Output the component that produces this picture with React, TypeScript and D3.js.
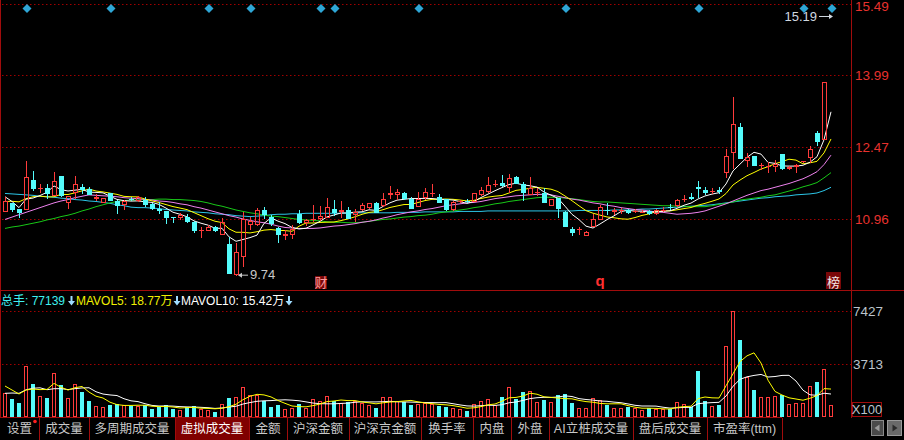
import React, { useEffect } from "react";
import * as d3 from "d3";

// daily bars, oldest first (the last bar is still being formed: only its
// close, high and volume show up, through the MAs, the 15.19 mark and the volume bar)
const opens = [
  11.09, 11.29, 11.16, 11.14, 11.77, 11.58, 11.6, 11.44, 11.86, 11.28,
  11.49, 11.62, 11.58, 11.37, 11.28, 11.49, 11.34, 11.25, 11.38, 11.33,
  11.35, 11.26, 11.17, 11.11, 11.0, 10.97, 11.0, 10.89, 10.69, 10.7,
  10.77, 10.61, 10.42, 9.76, 10.15, 10.82, 10.82, 11.15, 11.0, 10.76,
  10.6, 10.61, 11.05, 10.87, 10.93, 10.94, 10.98, 11.16, 11.1, 11.14,
  11.03, 11.14, 11.18, 11.29, 11.22, 11.45, 11.45, 11.5, 11.37, 11.21,
  11.4, 11.48, 11.41, 11.37, 11.14, 11.32, 11.34, 11.31, 11.45, 11.53,
  11.68, 11.72, 11.61, 11.83, 11.69, 11.46, 11.49, 11.49, 11.23, 11.39,
  11.1, 10.74, 10.71, 10.6, 10.79, 10.92, 11.13, 11.1, 11.12, 11.15,
  11.1, 11.09, 11.12, 11.05, 11.12, 11.2, 11.23, 11.36, 11.42, 11.62,
  11.56, 11.53, 11.57, 11.92, 12.34, 12.89, 12.18, 12.28, 12.07, 12.05,
  12.04, 12.32, 12.01, 12.05, 12.15, 12.23, 12.76, 12.63, 13.84,
];
const highs = [
  11.42, 11.29, 11.16, 12.18, 11.96, 11.7, 11.69, 11.94, 11.86, 11.44,
  11.86, 11.69, 11.62, 11.47, 11.39, 11.5, 11.36, 11.35, 11.42, 11.43,
  11.41, 11.28, 11.31, 11.12, 11.0, 11.08, 11.05, 10.9, 10.77, 10.82,
  10.8, 10.98, 10.57, 10.45, 11.1, 10.99, 11.18, 11.2, 11.04, 10.77,
  10.72, 10.82, 11.15, 10.94, 11.24, 11.22, 11.39, 11.35, 11.33, 11.21,
  11.17, 11.28, 11.29, 11.3, 11.5, 11.65, 11.58, 11.52, 11.42, 11.53,
  11.6, 11.69, 11.48, 11.37, 11.33, 11.36, 11.37, 11.5, 11.63, 11.84,
  11.77, 11.88, 11.91, 11.85, 11.74, 11.83, 11.6, 11.6, 11.38, 11.4,
  11.12, 10.77, 10.77, 10.7, 11.05, 11.25, 11.29, 11.19, 11.19, 11.17,
  11.17, 11.13, 11.13, 11.16, 11.2, 11.26, 11.37, 11.45, 11.49, 11.75,
  11.63, 11.6, 11.62, 12.42, 13.54, 12.99, 12.35, 12.28, 12.14, 12.16,
  12.2, 12.32, 12.06, 12.11, 12.18, 12.49, 12.81, 13.84, 15.19,
];
const lows = [
  11.09, 11.1, 10.98, 11.14, 11.55, 11.49, 11.37, 11.44, 11.42, 11.16,
  11.37, 11.48, 11.45, 11.32, 11.28, 11.32, 11.05, 11.15, 11.32, 11.31,
  11.21, 11.14, 11.06, 10.84, 10.86, 10.92, 10.86, 10.65, 10.55, 10.7,
  10.68, 10.61, 9.79, 9.74, 9.94, 10.72, 10.8, 10.95, 10.8, 10.45,
  10.5, 10.52, 10.85, 10.8, 10.89, 10.9, 10.98, 11.01, 10.98, 10.95,
  10.88, 11.12, 11.16, 11.07, 11.2, 11.37, 11.35, 11.35, 11.16, 11.2,
  11.35, 11.41, 11.28, 11.12, 11.12, 11.28, 11.28, 11.3, 11.43, 11.49,
  11.62, 11.63, 11.5, 11.69, 11.34, 11.45, 11.43, 11.29, 11.22, 10.97,
  10.77, 10.6, 10.62, 10.58, 10.79, 10.92, 11.03, 11.04, 11.06, 11.06,
  11.08, 11.07, 11.04, 11.03, 11.1, 11.14, 11.2, 11.3, 11.36, 11.39,
  11.45, 11.47, 11.47, 11.81, 12.0, 12.22, 12.04, 12.06, 11.98, 11.93,
  11.95, 11.99, 11.99, 11.93, 12.13, 12.14, 12.49, 12.63, 13.84,
];
const closes = [
  11.33, 11.14, 11.08, 11.83, 11.58, 11.6, 11.48, 11.75, 11.44, 11.44,
  11.69, 11.56, 11.46, 11.41, 11.39, 11.34, 11.22, 11.33, 11.36, 11.41,
  11.24, 11.16, 11.12, 10.97, 10.97, 11.03, 10.89, 10.69, 10.72, 10.77,
  10.7, 10.88, 9.79, 10.25, 10.96, 10.9, 11.14, 11.03, 10.84, 10.61,
  10.64, 10.73, 10.87, 10.92, 10.96, 11.02, 11.2, 11.07, 11.14, 10.96,
  11.1, 11.24, 11.28, 11.08, 11.37, 11.49, 11.52, 11.37, 11.16, 11.37,
  11.51, 11.5, 11.29, 11.14, 11.31, 11.34, 11.32, 11.49, 11.56, 11.67,
  11.7, 11.65, 11.81, 11.7, 11.5, 11.6, 11.51, 11.29, 11.37, 11.16,
  10.77, 10.65, 10.73, 10.68, 10.96, 11.2, 11.11, 11.13, 11.14, 11.08,
  11.12, 11.1, 11.05, 11.14, 11.15, 11.18, 11.35, 11.38, 11.37, 11.58,
  11.5, 11.55, 11.53, 12.29, 12.96, 12.22, 12.27, 12.06, 12.1, 12.08,
  12.12, 12.0, 12.04, 12.1, 12.17, 12.44, 12.58, 13.84, 15.05,
];
// volume, in units of 100 lots (axis shows X100)
const volumes = [
  1687, 1290, 1010, 3590, 2335, 1500, 1360, 3100, 2245, 1360,
  2335, 1777, 1150, 800, 732, 870, 940, 870, 800, 800,
  870, 592, 732, 870, 592, 523, 732, 800, 592, 523,
  383, 918, 1359, 1429, 2126, 1568, 1600, 1150, 732, 870,
  592, 662, 940, 662, 1290, 1150, 1500, 1150, 1010, 1080,
  1150, 1010, 870, 662, 1429, 1429, 1150, 1080, 870, 940,
  1010, 940, 801, 732, 662, 592, 453, 940, 1150, 1290,
  870, 1429, 2126, 1290, 1777, 1847, 1080, 1220, 1080, 1568,
  1638, 1010, 662, 662, 1359, 1220, 870, 662, 662, 732,
  662, 523, 662, 592, 592, 592, 1080, 940, 732, 3241,
  1150, 801, 870, 4984, 7423, 5402, 2823, 1917, 1429, 1429,
  1500, 1568, 940, 1010, 1010, 2196, 2474, 3380, 860,
];
// sessions before the window (feed the first MA5/MA10 values)
const priorCloses = [11.1, 11.2, 11.15, 11.18, 11.47, 11.64, 11.73, 10.93, 11.47];
const priorVolumes = [1100, 1200, 1150, 1250, 1190, 2685, 2405, 2195, 2008];

// longer averages
const ma20 = [
  10.94, 10.99, 11.04, 11.09, 11.14, 11.19, 11.24, 11.29, 11.33, 11.36,
  11.4, 11.43, 11.46, 11.45, 11.44, 11.43, 11.42, 11.4, 11.39, 11.38,
  11.36, 11.35, 11.33, 11.32, 11.3, 11.27, 11.25, 11.21, 11.18, 11.14,
  11.1, 11.06, 11.02, 10.99, 10.95, 10.92, 10.89, 10.87, 10.84, 10.8,
  10.77, 10.76, 10.75, 10.75, 10.75, 10.76, 10.78, 10.8, 10.81, 10.83,
  10.85, 10.88, 10.9, 10.93, 10.97, 11.0, 11.04, 11.07, 11.1, 11.12,
  11.15, 11.17, 11.2, 11.23, 11.25, 11.27, 11.29, 11.3, 11.32, 11.35,
  11.38, 11.4, 11.42, 11.44, 11.45, 11.46, 11.47, 11.47, 11.46, 11.43,
  11.4, 11.37, 11.35, 11.32, 11.29, 11.27, 11.24, 11.22, 11.19, 11.17,
  11.15, 11.14, 11.12, 11.1, 11.09, 11.07, 11.05, 11.06, 11.07, 11.09,
  11.12, 11.17, 11.22, 11.27, 11.33, 11.39, 11.45, 11.5, 11.55, 11.58,
  11.62, 11.66, 11.7, 11.75, 11.8, 11.87, 11.95, 12.1, 12.3,
];
const ma30 = [
  10.75, 10.78, 10.8, 10.83, 10.86, 10.89, 10.93, 10.96, 11.0, 11.03,
  11.07, 11.12, 11.16, 11.21, 11.25, 11.29, 11.32, 11.34, 11.35, 11.35,
  11.36, 11.36, 11.37, 11.37, 11.36, 11.36, 11.35, 11.34, 11.32, 11.29,
  11.25, 11.22, 11.18, 11.14, 11.11, 11.08, 11.06, 11.03, 11.01, 11.0,
  10.98, 10.96, 10.94, 10.93, 10.92, 10.91, 10.89, 10.88, 10.88, 10.87,
  10.87, 10.88, 10.9, 10.92, 10.94, 10.95, 10.97, 10.99, 11.0, 11.02,
  11.03, 11.05, 11.08, 11.1, 11.12, 11.14, 11.16, 11.19, 11.21, 11.24,
  11.27, 11.29, 11.32, 11.34, 11.36, 11.38, 11.4, 11.41, 11.41, 11.41,
  11.39, 11.38, 11.36, 11.34, 11.32, 11.31, 11.31, 11.3, 11.29, 11.28,
  11.27, 11.26, 11.25, 11.24, 11.23, 11.23, 11.22, 11.22, 11.21, 11.21,
  11.21, 11.23, 11.26, 11.28, 11.31, 11.35, 11.37, 11.39, 11.41, 11.44,
  11.46, 11.5, 11.54, 11.58, 11.63, 11.67, 11.72, 11.82, 11.93,
];
const ma60 = [
  11.49, 11.48, 11.47, 11.46, 11.45, 11.43, 11.42, 11.41, 11.39, 11.38,
  11.36, 11.35, 11.33, 11.32, 11.3, 11.28, 11.25, 11.23, 11.2, 11.19,
  11.19, 11.18, 11.17, 11.15, 11.14, 11.13, 11.12, 11.1, 11.09, 11.08,
  11.06, 11.05, 11.04, 11.02, 11.01, 11.0, 11.01, 11.02, 11.04, 11.05,
  11.05, 11.06, 11.06, 11.07, 11.07, 11.07, 11.07, 11.07, 11.07, 11.07,
  11.08, 11.08, 11.08, 11.08, 11.08, 11.08, 11.09, 11.09, 11.09, 11.09,
  11.1, 11.1, 11.1, 11.1, 11.1, 11.11, 11.11, 11.11, 11.11, 11.12,
  11.12, 11.12, 11.12, 11.12, 11.12, 11.12, 11.12, 11.12, 11.12, 11.12,
  11.12, 11.12, 11.13, 11.13, 11.13, 11.13, 11.13, 11.14, 11.14, 11.14,
  11.15, 11.16, 11.16, 11.17, 11.18, 11.19, 11.2, 11.21, 11.22, 11.23,
  11.24, 11.25, 11.27, 11.29, 11.31, 11.33, 11.35, 11.37, 11.39, 11.4,
  11.42, 11.43, 11.44, 11.46, 11.47, 11.48, 11.5, 11.55, 11.62,
];

const priceTicks = [15.49, 13.99, 12.47, 10.96];
const volumeTicks = [7427, 3713];
const signalIdx = [3, 15, 29, 35, 45, 47, 59, 80, 99, 114, 118];
const eventIdx = [45, 85, 118];
const eventLabels = ["财", "q", "榜"];
const tabLabels = [
  "设置", "成交量", "多周期成交量", "虚拟成交量", "金额", "沪深金额", "沪深京金额",
  "换手率", "内盘", "外盘", "AI立桩成交量", "盘后成交量", "市盈率(ttm)",
];
const selectedTab = 3;

const W = 904;
const H = 440;
const AXIS_X = 851;
const PRICE_BOTTOM = 290;
const VOL_BASE = 417;
const TAB_TOP = 417.5;
const TAB_W = [39, 50, 86, 74, 38, 62, 72, 52, 38, 38, 84, 74, 75];
const FONT = "'Liberation Sans', Arial, 'Noto Sans CJK SC', sans-serif";

const RED = "#ff3b3b";
const CYAN = "#54fcfc";
const FRAME = "#a00c0c";
const GRID = "#a00000";

function movingAvg(vals: number[], prior: number[], n: number) {
  const all = prior.concat(vals);
  return vals.map((_, i) => d3.mean(all.slice(i + prior.length - n + 1, i + prior.length + 1)) as number);
}

const App: React.FC = () => {
  useEffect(() => {
    document.body.style.margin = "0";
    document.body.style.background = "#000";
  }, []);

  const n = closes.length;
  const painted = n - 1; // last bar's candle is not painted yet

  const x = d3.scaleLinear().domain([0, n - 1]).range([5, 831]);
  const yP = d3.scaleLinear().domain([10.96, 15.49]).range([218.5, 4.3]);
  const yV = d3.scaleLinear().domain([0, 7427]).range([VOL_BASE + 0.5, 311]);

  const ma5 = movingAvg(closes, priorCloses, 5);
  const ma10 = movingAvg(closes, priorCloses, 10);
  const vma5 = movingAvg(volumes, priorVolumes, 5);
  const vma10 = movingAvg(volumes, priorVolumes, 10);

  const priceLine = d3.line<number>().x((_, i) => x(i)).y((d) => yP(d));
  const volLine = d3.line<number>().x((_, i) => x(i)).y((d) => yV(d));

  const maSeries = [
    { data: ma60, color: "#2cc6e8" },
    { data: ma30, color: "#18c818" },
    { data: ma20, color: "#ee82ee" },
    { data: ma10, color: "#ffff00" },
    { data: ma5, color: "#ffffff" },
  ];

  const lowIdx = d3.minIndex(lows);
  const highIdx = d3.maxIndex(highs);

  const tabEdges = d3.cumsum(TAB_W);

  return (
    <svg
      width={W}
      height={H}
      style={{ display: "block", position: "absolute", left: 0, top: 0, fontFamily: FONT }}
    >
      <rect width={W} height={H} fill="#000" />

      {/* price grid */}
      {priceTicks.map((t) => (
        <g key={"pt" + t}>
          <line x1={2} x2={AXIS_X} y1={Math.round(yP(t)) + 0.5} y2={Math.round(yP(t)) + 0.5}
            stroke={GRID} strokeDasharray="1.5,2.5" />
          <text x={855} y={Math.max(yP(t) + 5, 11)} fontSize={13.5} fill="#e8322e">{t.toFixed(2)}</text>
        </g>
      ))}

      {/* moving averages */}
      {maSeries.map((s, k) => (
        <path key={"ma" + k} d={priceLine(s.data) ?? ""} fill="none" stroke={s.color} strokeWidth={1} />
      ))}

      {/* candles */}
      <g shapeRendering="crispEdges">
        {opens.slice(0, painted).map((o, i) => {
          const c = closes[i];
          const cx = Math.round(x(i));
          const up = c >= o;
          const top = Math.round(yP(Math.max(o, c)));
          const bot = Math.round(yP(Math.min(o, c)));
          const hi = Math.round(yP(highs[i]));
          const lo = Math.round(yP(lows[i]));
          if (up) {
            return (
              <g key={"c" + i} stroke={RED} fill="none">
                {hi < top && <line x1={cx + 0.5} x2={cx + 0.5} y1={hi} y2={top} />}
                {lo > bot && <line x1={cx + 0.5} x2={cx + 0.5} y1={bot} y2={lo} />}
                {bot - top >= 2 ? (
                  <rect x={cx - 1.5} y={top + 0.5} width={4} height={bot - top - 1} />
                ) : (
                  <line x1={cx - 2} x2={cx + 3} y1={top + 0.5} y2={top + 0.5} />
                )}
              </g>
            );
          }
          return (
            <g key={"c" + i}>
              <line x1={cx + 0.5} x2={cx + 0.5} y1={hi} y2={lo} stroke={CYAN} />
              <rect x={cx - 2} y={top} width={5} height={Math.max(bot - top, 1)} fill={CYAN} />
            </g>
          );
        })}
      </g>

      {/* signal diamonds along the top */}
      {signalIdx.map((i) => {
        const cx = x(i) + 1;
        const cy = 8.5;
        return (
          <path key={"s" + i} d={`M${cx},${cy - 4.5}L${cx + 4.5},${cy}L${cx},${cy + 4.5}L${cx - 4.5},${cy}Z`}
            fill="#2ea6d6" />
        );
      })}

      {/* low / high marks */}
      <g stroke="#c8c8c8" fill="#c8c8c8">
        <line x1={x(lowIdx) + 3} x2={x(lowIdx) + 12} y1={yP(lows[lowIdx]) - 1} y2={yP(lows[lowIdx]) - 1} />
        <path d={`M${x(lowIdx) + 2},${yP(lows[lowIdx]) - 1}l4,-2.5v5z`} stroke="none" />
      </g>
      <text x={x(lowIdx) + 14} y={yP(lows[lowIdx]) + 3} fontSize={13} fill="#c8c8c8">
        {lows[lowIdx].toFixed(2)}
      </text>
      <g stroke="#d0d8e0" fill="#d0d8e0">
        <line x1={x(highIdx) - 12} x2={x(highIdx)} y1={yP(highs[highIdx]) - 2} y2={yP(highs[highIdx]) - 2} />
        <path d={`M${x(highIdx) + 2},${yP(highs[highIdx]) - 2}l-4,-2.5v5z`} stroke="none" />
      </g>
      <text x={x(highIdx) - 14} y={yP(highs[highIdx]) + 2.5} fontSize={13} fill="#d0d8e0" textAnchor="end">
        {highs[highIdx].toFixed(2)}
      </text>

      {/* event tags at the bottom of the price panel */}
      {eventIdx.map((i, k) => {
        const cx = x(i);
        const label = eventLabels[k];
        if (label === "q") {
          return (
            <text key={"e" + k} x={cx} y={286} fontSize={15} fontWeight="bold" fill="#ff3030" textAnchor="middle">
              {label}
            </text>
          );
        }
        const w = label === "榜" ? 15 : 12;
        const top = label === "榜" ? 272 : 276;
        return (
          <g key={"e" + k}>
            <rect x={cx - 5} y={top} width={w} height={289 - top} fill="#7a0808" />
            <text x={cx - 5 + w / 2} y={287} fontSize={13} fill={label === "榜" ? "#f4e8e8" : "#ff9a9a"}
              textAnchor="middle">
              {label}
            </text>
          </g>
        );
      })}

      {/* frame */}
      <g shapeRendering="crispEdges">
        <line x1={0.5} x2={0.5} y1={0} y2={TAB_TOP} stroke={FRAME} />
        <line x1={AXIS_X + 0.5} x2={AXIS_X + 0.5} y1={0} y2={TAB_TOP} stroke={FRAME} />
        <line x1={0} x2={W} y1={PRICE_BOTTOM + 0.5} y2={PRICE_BOTTOM + 0.5} stroke={FRAME} />
      </g>

      {/* volume panel header */}
      <text x={1} y={305} fontSize={12} fill="#3ff0f0">总手: 77139</text>
      <text x={76} y={305} fontSize={12} fill="#f0f000">MAVOL5: 18.77万</text>
      <text x={181} y={305} fontSize={12} fill="#ffffff">MAVOL10: 15.42万</text>
      {[71.5, 177, 289].map((ax) => (
        <path key={"ar" + ax}
          d={`M${ax - 1},296h2v5h2.5l-3.5,4.5l-3.5,-4.5h2.5z`}
          fill="#9fdcff" />
      ))}

      {volumeTicks.map((t) => (
        <g key={"vt" + t}>
          <line x1={2} x2={AXIS_X} y1={Math.round(yV(t)) + 0.5} y2={Math.round(yV(t)) + 0.5}
            stroke={GRID} strokeDasharray="1.5,2.5" />
          <text x={853} y={yV(t) + 5} fontSize={13.5} fill="#bcc4cc">{t}</text>
        </g>
      ))}
      <rect x={852.5} y={402.5} width={29} height={14} fill="none" stroke={FRAME} />
      <text x={867} y={414} fontSize={13} fill="#bcc4cc" textAnchor="middle">X100</text>

      <g shapeRendering="crispEdges">
        {volumes.map((v, i) => {
          const cx = Math.round(x(i));
          const top = Math.round(yV(v));
          const up = closes[i] >= opens[i];
          return up ? (
            <rect key={"v" + i} x={cx - 1.5} y={top + 0.5} width={3} height={VOL_BASE - top - 1}
              fill="none" stroke={RED} />
          ) : (
            <rect key={"v" + i} x={cx - 2} y={top} width={4} height={VOL_BASE - top} fill={CYAN} />
          );
        })}
      </g>
      <path d={volLine(vma10) ?? ""} fill="none" stroke="#ffffff" strokeWidth={1} />
      <path d={volLine(vma5) ?? ""} fill="none" stroke="#ffff00" strokeWidth={1} />

      {/* indicator tabs */}
      <g shapeRendering="crispEdges">
        <line x1={0} x2={tabEdges[tabEdges.length - 1]} y1={TAB_TOP} y2={TAB_TOP} stroke={FRAME} />
        {tabLabels.map((label, k) => {
          const x0 = k === 0 ? 0 : tabEdges[k - 1];
          const x1 = tabEdges[k];
          return (
            <g key={"tab" + k}>
              {k === selectedTab && <rect x={x0 + 1} y={TAB_TOP + 0.5} width={x1 - x0 - 1} height={H - TAB_TOP}
                fill="#800000" />}
              <line x1={x1 + 0.5} x2={x1 + 0.5} y1={TAB_TOP} y2={H} stroke={FRAME} />
            </g>
          );
        })}
      </g>
      {tabLabels.map((label, k) => {
        const x0 = k === 0 ? 0 : tabEdges[k - 1];
        const x1 = tabEdges[k];
        return (
          <text key={"tt" + k} x={(x0 + x1) / 2} y={433} fontSize={12.5} textAnchor="middle"
            fill={k === selectedTab ? "#ffffff" : "#c8c8c8"}>
            {label}
          </text>
        );
      })}
      <circle cx={35} cy={421.5} r={1.8} fill="#ff2020" />

      {/* scroll buttons */}
      <rect x={871.5} y={420.5} width={12} height={15} fill="#4a4a4a" stroke="#8a8a8a" />
      <path d="M874.5,428l5,-3.5v7z" fill="#9a9a9a" />
      <rect x={887.5} y={420.5} width={14} height={15} fill="#6a6a6a" stroke="#9a9a9a" />
      <path d="M897.5,428l-5,-3.5v7z" fill="#2a2a2a" />
    </svg>
  );
};

export default App;
